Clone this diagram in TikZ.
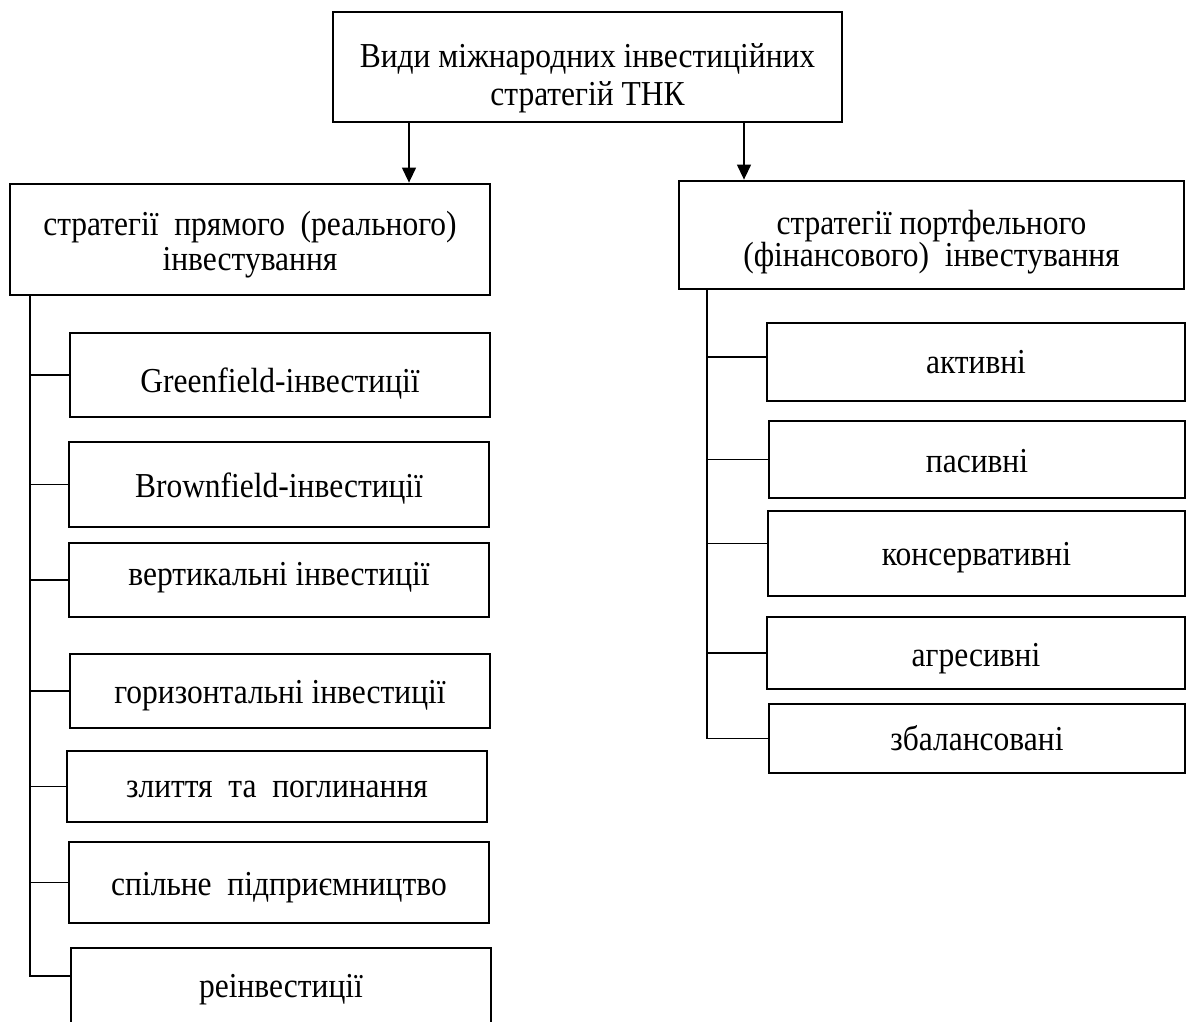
\documentclass[tikz,border=0pt]{standalone}
\usepackage{fontspec}
\setmainfont{Liberation Serif}[FakeStretch=0.9]
\usetikzlibrary{arrows.meta}
\newcommand{\twolines}[3]{\vtop{\baselineskip=#1\lineskiplimit=-1000pt\lineskip=0pt
  \halign{\hfil##\hfil\cr #2\cr #3\cr}}}
\begin{document}
\begin{tikzpicture}[x=1pt,y=-1pt,
  box/.style={draw, line width=2.8pt, inner sep=0pt,
    font=\fontsize{35}{40}\selectfont, text depth=0pt},
  conn/.style={line width=1.2pt},
  arr/.style={line width=1.3pt, -{Triangle[width=14pt,length=15pt]}}]
\useasboundingbox (0,0) rectangle (1187,1021);
\node[box, minimum width=509pt, minimum height=110pt, text height=0pt, text depth=0pt] (T) at (587.5,67)
  {\twolines{38.5pt}{Види міжнародних інвестиційних}{стратегій ТНК}};
\node[box, minimum width=480pt, minimum height=111pt, text height=0pt, text depth=9pt] (L) at (250,239.5)
  {\twolines{35pt}{стратегії\ \ прямого\ \ (реального)}{інвестування}};
\node[box, minimum width=505pt, minimum height=108pt, text height=0pt, text depth=2pt] (R) at (931.5,235)
  {\twolines{32pt}{стратегії портфельного}{(фінансового)\ \ інвестування}};
% left column
\node[box, minimum width=420pt, minimum height=84pt, text height=34pt] (g1) at (280,375) {Greenfield-інвестиції};
\node[box, minimum width=420pt, minimum height=85pt, text height=25pt] (g2) at (279,484.5) {Brownfield-інвестиції};
\node[box, minimum width=420pt, minimum height=74pt, text height=10pt] (g3) at (279,580) {вертикальні інвестиції};
\node[box, minimum width=420pt, minimum height=74pt, text height=24pt] (g4) at (280,691) {горизонтальні інвестиції};
\node[box, minimum width=420pt, minimum height=71pt, text height=21pt] (g5) at (277,786.5) {злиття\ \ та\ \ поглинання};
\node[box, minimum width=420pt, minimum height=81pt, text height=25pt] (g6) at (279,882.5) {спільне\ \ підприємництво};
\node[box, minimum width=420pt, minimum height=84pt, text height=14pt] (g7) at (281,990) {реінвестиції};
% right column
\node[box, minimum width=418pt, minimum height=78pt, text height=22pt] (p1) at (976,362) {активні};
\node[box, minimum width=416pt, minimum height=77pt, text height=25pt] (p2) at (977,459.5) {пасивні};
\node[box, minimum width=417pt, minimum height=85pt, text height=23pt] (p3) at (976.5,553.5) {консервативні};
\node[box, minimum width=418pt, minimum height=72pt, text height=26pt] (p4) at (976,653) {агресивні};
\node[box, minimum width=416pt, minimum height=69pt, text height=23pt] (p5) at (977,738.5) {збалансовані};
% arrows
\coordinate (a1) at (409,0);
\coordinate (a2) at (744,0);
\draw[arr] (T.south -| a1) -- (L.north -| a1);
\draw[arr] (T.south -| a2) -- (R.north -| a2);
% left trunk
\coordinate (lx) at (30,0);
\coordinate (g7c) at ([yshift=14pt]g7.west);
\draw[conn] (L.south -| lx) |- (g7c);
\foreach \n in {g1,g2,g3,g4,g5,g6}
  \draw[conn] (lx |- \n.west) -- (\n.west);
% right trunk
\coordinate (rx) at (707,0);
\coordinate (p1c) at ([yshift=5pt]p1.west);
\coordinate (p3c) at ([yshift=10pt]p3.west);
\draw[conn] (R.south -| rx) |- (p5.west);
\draw[conn] (rx |- p1c) -- (p1c);
\draw[conn] (rx |- p2.west) -- (p2.west);
\draw[conn] (rx |- p3c) -- (p3c);
\draw[conn] (rx |- p4.west) -- (p4.west);
\end{tikzpicture}
\end{document}
